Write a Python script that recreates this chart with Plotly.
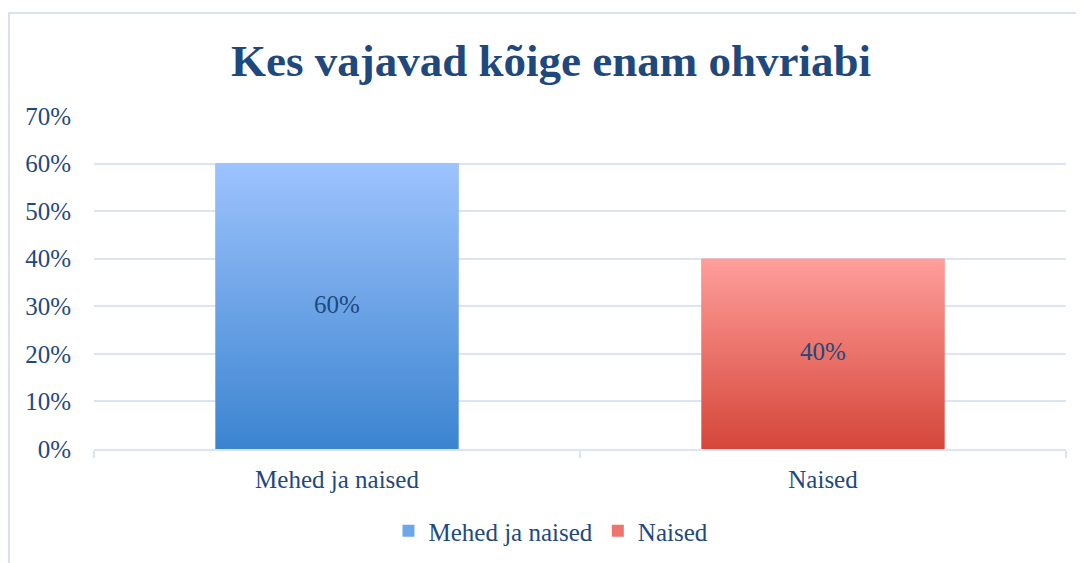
import plotly.graph_objects as go

categories = ["Mehed ja naised", "Naised"]
values = [0.60, 0.40]
value_labels = ["60%", "40%"]
top_colors = ["#9DC3FD", "#FF9E9A"]
bottom_colors = ["#3B84D0", "#D5463A"]
legend_colors = ["#6EA6EA", "#EE756D"]
y_tickvals = [0, 0.1, 0.2, 0.3, 0.4, 0.5, 0.6, 0.7]
y_ticktext = ["0%", "10%", "20%", "30%", "40%", "50%", "60%", "70%"]
title_text = "Kes vajavad kõige enam ohvriabi"

TEXT = "#1F497D"
GRID = "#D9E5F5"
FONT = "Liberation Serif"
FS = 25
BAR_W = 0.5
W, H = 1084, 563
# the page places the figure 8px from the top-left corner
OFF = 8
L, T = 94 - OFF, 116 - OFF
R = W - (1066 - OFF)
B = H - (449 - OFF)
PW, PH = W - L - R, H - T - B

fig = go.Figure()

# legend / hover carriers (real bars)
for i, (c, v) in enumerate(zip(categories, values)):
    fig.add_trace(go.Bar(
        x=[c], y=[v], name=c, width=BAR_W,
        marker=dict(color=legend_colors[i], line=dict(width=0)),
        hovertemplate="%{x}: %{y:.0%}<extra></extra>",
    ))

# gradient overlays, computed from the data through the overlay axis
for i, v in enumerate(values):
    fig.add_trace(go.Scatter(
        x=[i - BAR_W / 2, i + BAR_W / 2, i + BAR_W / 2, i - BAR_W / 2, i - BAR_W / 2],
        y=[0, 0, v, v, 0],
        xaxis="x2", mode="lines", line=dict(width=0),
        fill="toself",
        fillgradient=dict(type="vertical",
                          colorscale=[[0, bottom_colors[i]], [1, top_colors[i]]]),
        showlegend=False, hoverinfo="skip",
    ))

# value labels in the middle of each bar
fig.add_trace(go.Scatter(
    x=list(range(len(values))), y=[v / 2 for v in values],
    xaxis="x2", mode="text", text=value_labels, textposition="middle center",
    textfont=dict(family=FONT, size=FS, color=TEXT),
    showlegend=False, hoverinfo="skip",
))

fig.update_layout(
    width=W, height=H,
    paper_bgcolor="white", plot_bgcolor="white",
    margin=dict(l=L, r=R, t=T, b=B, autoexpand=False),
    barmode="overlay",
    font=dict(family=FONT, color=TEXT, size=FS),
    title=dict(text="<b>" + title_text + "</b>", xref="container",
               x=(551 - OFF) / W, yref="container", y=1 - (60 - OFF) / H,
               xanchor="center", yanchor="middle",
               font=dict(family=FONT, size=45, color=TEXT)),
    xaxis=dict(type="category", categoryorder="array", categoryarray=categories,
               range=[-0.5, 1.5], showgrid=False, zeroline=False,
               showline=True, linecolor=GRID, linewidth=2,
               ticks="outside", tickson="boundaries", ticklen=7,
               tickcolor=GRID, tickwidth=2, automargin=False,
               ticklabelstandoff=7,
               tickfont=dict(family=FONT, size=FS, color=TEXT)),
    xaxis2=dict(overlaying="x", range=[-0.5, 1.5], visible=False),
    yaxis=dict(range=[0, 0.7], tickvals=y_tickvals, ticktext=y_ticktext,
               showgrid=True, gridcolor=GRID, gridwidth=2, zeroline=False,
               showline=False, ticks="", ticklabelstandoff=22, automargin=False,
               tickfont=dict(family=FONT, size=FS, color=TEXT)),
    legend=dict(orientation="h", xref="container", x=(551 - OFF) / W, xanchor="center",
                yref="container", y=1 - (531 - OFF) / H, yanchor="middle",
                font=dict(family=FONT, size=FS, color=TEXT),
                itemwidth=30, tracegroupgap=0),
    shapes=[dict(type="rect", xref="paper", yref="paper",
                 x0=(1 - L) / PW, x1=1.1, y0=-0.5, y1=(PH + T - 5) / PH,
                 line=dict(color="#D5E3F5", width=2), fillcolor="rgba(0,0,0,0)",
                 layer="below")],
)

fig.write_html("out.html")
